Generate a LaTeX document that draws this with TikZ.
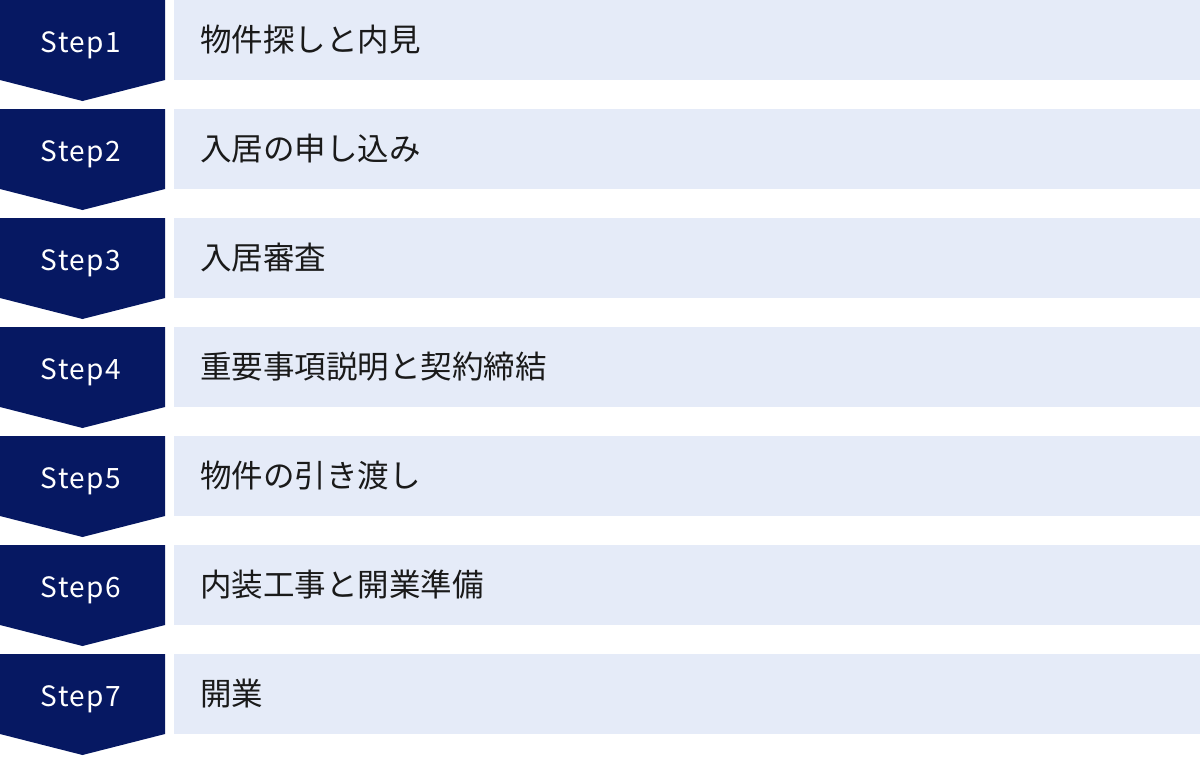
\documentclass[tikz,border=0pt]{standalone}
\usepackage{fontspec}
\setmainfont{Noto Sans CJK JP}
\newfontfamily\stepfont[LetterSpace=5]{Noto Sans CJK JP}
\definecolor{stepnavy}{HTML}{061862}
\definecolor{rowblue}{HTML}{E5EBF8}
\definecolor{tasktext}{HTML}{1A1A1A}
\tikzset{
  steplabel/.style={text=white, anchor=base, inner sep=0pt, font=\stepfont\fontsize{28}{34}\selectfont},
  tasklabel/.style={text=tasktext, anchor=base west, inner sep=0pt, font=\fontsize{31.5}{38}\selectfont}
}
\begin{document}
\begin{tikzpicture}[x=1pt,y=-1pt]
    \useasboundingbox (0,0) rectangle (1200,756);

    \foreach \i/\txt in {1/物件探しと内見, 2/入居の申し込み, 3/入居審査, 4/重要事項説明と契約締結,
                         5/物件の引き渡し, 6/内装工事と開業準備, 7/開業} {
        \pgfmathsetmacro\rowy{109*(\i-1)}
        \fill[stepnavy] (0,\rowy) -- (165,\rowy) -- (165,\rowy+80) -- (82.5,\rowy+101)
            -- (0,\rowy+80) -- cycle;
        \fill[rowblue] (174,\rowy) rectangle (1200,\rowy+80);
        \node[steplabel] (step\i) at (81,\rowy+52.5) {Step\i};
        \node[tasklabel] (task\i) at (200,\rowy+51) {\txt};
    }
\end{tikzpicture}
\end{document}
